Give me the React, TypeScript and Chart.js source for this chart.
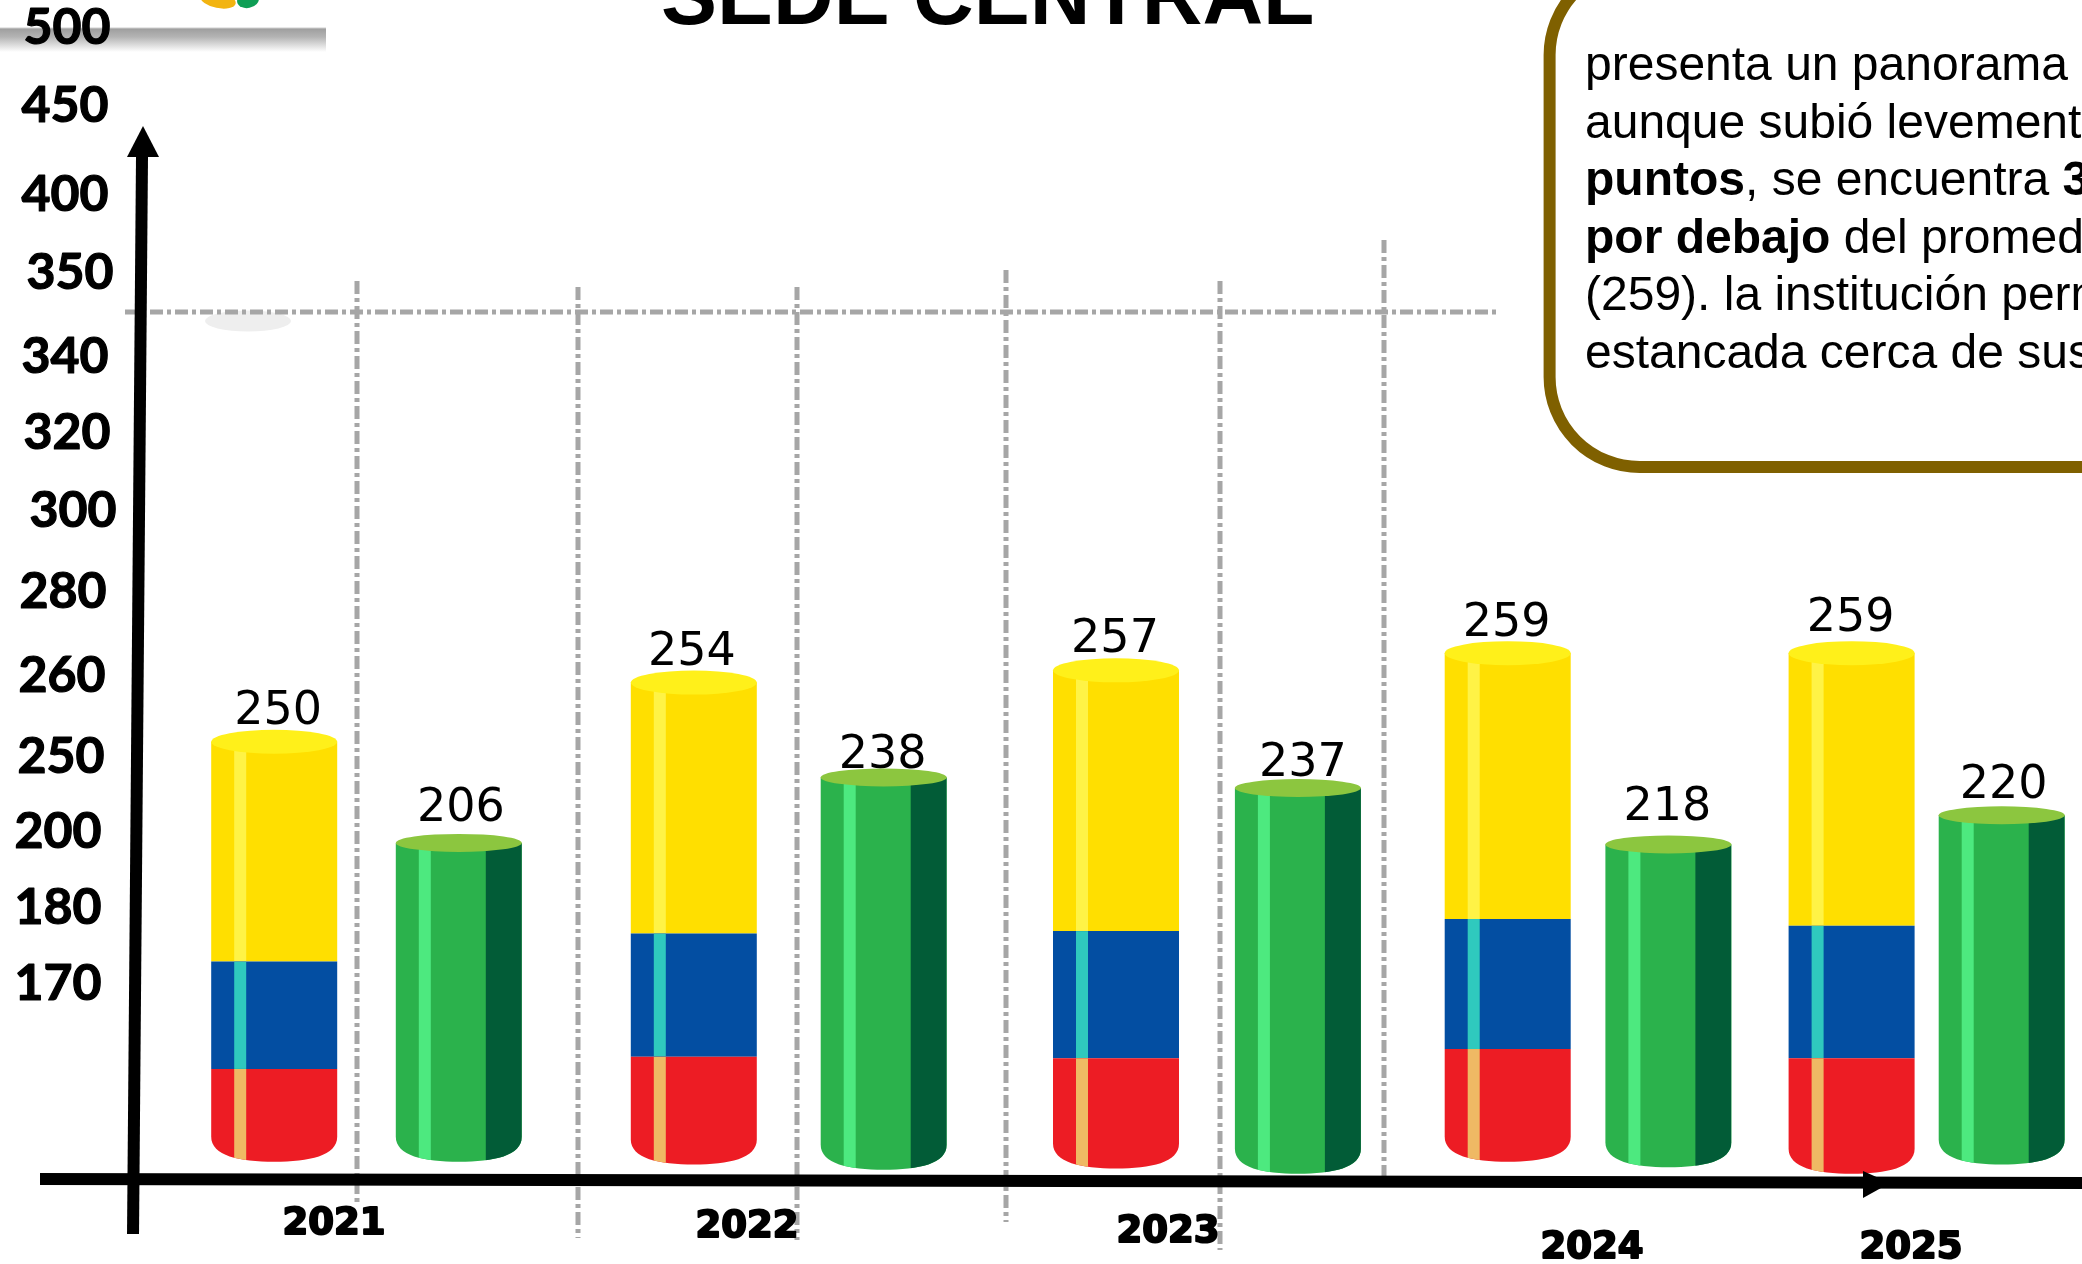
import React, { useEffect, useRef } from "react";
import { Chart, BarController, BarElement, LinearScale } from "chart.js";

// ---------- data ----------
const years = ["2021", "2022", "2023", "2024", "2025"];
const nationalLabels = [250, 254, 257, 259, 259];
const schoolLabels = [206, 238, 237, 218, 220];
const axisLabels = [170, 180, 200, 250, 260, 280, 300, 320, 340, 350, 400, 450, 500];

// readings against the picture's own (uneven) axis
const nationalTop = [251.7, 259.0, 261.0, 265.1, 265.1];
const nationalYellowBase = [172.8, 176.5, 176.8, 178.4, 177.5];
const nationalBlueBase = [94.9, 105.4, 104.2, 112.2, 104.2];
const nationalBottom = [14.1, 11.7, 8.3, 14.1, 3.7];
const schoolTop = [196.9, 235.5, 228.5, 196.5, 210.5];
const schoolBottom = [14.1, 7.1, 3.7, 9.4, 11.7];

// ---------- layout ----------
const W = 2082;
const H = 1264;
const axisValues = [0, 170, 180, 200, 250, 260, 280, 300, 320, 340, 350, 400, 450, 500];
const axisPixels = [1178, 982.6, 906.9, 831.2, 755.5, 674.5, 590.9, 509.9, 431.5, 355.8, 272.2, 193.9, 104.9, 26.6];
const axisLabelX = [58, 58, 58, 61, 62, 63, 73, 67, 65, 70, 65, 65, 67];
const nationalX = [274.2, 693.8, 1116, 1507.7, 1851.6];
const schoolX = [458.8, 883.7, 1297.9, 1668.4, 2001.7];
const nationalLabelOffset = [[4, 30], [-2, 30], [-1, 30], [-1, 29], [-1, 34]];
const schoolLabelOffset = [[2, 34], [-1, 21], [5, 24], [-1, 36], [2, 29]];
const yearX = [334, 747, 1168, 1592, 1911];
const yearY = [1224, 1227, 1232, 1248, 1248];
const verticals = [
  [357, 281, 1205],
  [578, 287, 1238],
  [797, 287, 1240],
  [1006, 270, 1222],
  [1220, 281, 1250],
  [1384, 240, 1190],
];

const BAR_W = 126;
const DASH = [13, 4, 4, 4];

const looks: Record<string, any> = {
  "#FFDF00": { stripe: "#FFF346", top: "#FFF01A", ry: 12 },
  "#034EA2": { stripe: "#2FC9BE" },
  "#ED1C24": { stripe: "#EFB964", cap: true },
  "#2BB24C": { stripe: "#4DE97F", top: "#8CC63F", ry: 9, dark: "#025C37", cap: true },
};

class CylinderBar extends BarElement {
  static id = "cylinderBar";
  static defaults = { ...BarElement.defaults };
  draw(ctx: CanvasRenderingContext2D) {
    const { x, y, base, width } = (this as any).getProps(["x", "y", "base", "width"]);
    const fill = (this as any).options.backgroundColor;
    const look = looks[fill] || {};
    const l = x - width / 2;
    const r = x + width / 2;
    ctx.save();
    ctx.beginPath();
    ctx.moveTo(l, y);
    ctx.lineTo(r, y);
    if (look.cap) {
      ctx.lineTo(r, base - 25);
      ctx.bezierCurveTo(r, base - 6, r - 28, base, x, base);
      ctx.bezierCurveTo(l + 28, base, l, base - 6, l, base - 25);
    } else {
      ctx.lineTo(r, base);
      ctx.lineTo(l, base);
    }
    ctx.closePath();
    ctx.fillStyle = fill;
    ctx.fill();
    ctx.clip();
    ctx.fillStyle = look.stripe;
    ctx.fillRect(l + 23, y, 12, base - y);
    if (look.dark) {
      ctx.fillStyle = look.dark;
      ctx.fillRect(r - 36, y, 36, base - y);
    }
    ctx.restore();
    if (look.top) {
      ctx.fillStyle = look.top;
      ctx.beginPath();
      ctx.ellipse(x, y, width / 2, look.ry, 0, 0, Math.PI * 2);
      ctx.fill();
    }
  }
}

class CylinderController extends BarController {
  static id = "cylinder";
  static defaults = { ...BarController.defaults, dataElementType: "cylinderBar" };
  static overrides = BarController.overrides;
}

class SlideScale extends LinearScale {
  static id = "slide";
  static defaults = LinearScale.defaults;
  getPixelForValue(v: number) {
    let i = 0;
    while (i < axisValues.length - 2 && v > axisValues[i + 1]) i++;
    const t = (v - axisValues[i]) / (axisValues[i + 1] - axisValues[i]);
    return axisPixels[i] + t * (axisPixels[i + 1] - axisPixels[i]);
  }
  getValueForPixel(p: number) {
    let i = 0;
    while (i < axisPixels.length - 2 && p < axisPixels[i + 1]) i++;
    const t = (p - axisPixels[i]) / (axisPixels[i + 1] - axisPixels[i]);
    return axisValues[i] + t * (axisValues[i + 1] - axisValues[i]);
  }
}

Chart.register(CylinderBar, CylinderController, SlideScale, LinearScale);

const textRuns: [string, boolean][][] = [
  [["presenta un panorama", false]],
  [["aunque subió levemente", false]],
  [["puntos", true], [", se encuentra ", false], ["3", true]],
  [["por debajo", true], [" del promedio", false]],
  [["(259). la institución perm", false]],
  [["estancada cerca de sus", false]],
];

function arrow(ctx: CanvasRenderingContext2D, pts: number[][]) {
  ctx.beginPath();
  pts.forEach((p, i) => (i ? ctx.lineTo(p[0], p[1]) : ctx.moveTo(p[0], p[1])));
  ctx.closePath();
  ctx.fill();
}

const backdrop = {
  id: "backdrop",
  beforeDatasetsDraw(chart: any) {
    const ctx: CanvasRenderingContext2D = chart.ctx;
    const x = chart.scales.x;
    const y = chart.scales.y;
    ctx.save();
    // remains of the slide header
    const g = ctx.createLinearGradient(0, 27, 0, 52);
    g.addColorStop(0, "#FFFFFF");
    g.addColorStop(0.08, "#9F9F9F");
    g.addColorStop(0.4, "#B4B4B4");
    g.addColorStop(1, "#FFFFFF");
    ctx.fillStyle = g;
    ctx.fillRect(0, 27, 326, 25);
    ctx.fillStyle = "#F2B411";
    ctx.beginPath();
    ctx.ellipse(218, 0, 18, 8, 0.2, 0, Math.PI * 2);
    ctx.fill();
    ctx.fillStyle = "#0E9E55";
    ctx.beginPath();
    ctx.ellipse(248, 0, 11, 8, -0.2, 0, Math.PI * 2);
    ctx.fill();

    ctx.fillStyle = "#EEEEEE";
    ctx.beginPath();
    ctx.ellipse(248, 321, 43, 10.5, 0, 0, Math.PI * 2);
    ctx.fill();

    // dash-dot guides
    ctx.strokeStyle = "#A6A6A6";
    ctx.lineWidth = 5;
    ctx.setLineDash(DASH);
    ctx.beginPath();
    ctx.moveTo(125, 312);
    ctx.lineTo(1496, 312);
    verticals.forEach(([vx, a, b]) => {
      ctx.moveTo(vx, a);
      ctx.lineTo(vx, b);
    });
    ctx.stroke();
    ctx.setLineDash([]);

    // value labels
    ctx.fillStyle = "#000";
    ctx.textAlign = "center";
    ctx.textBaseline = "middle";
    ctx.font = '46px "DejaVu Sans"';
    nationalLabels.forEach((v, i) => {
      const [dx, dy] = nationalLabelOffset[i];
      ctx.fillText(String(v), x.getPixelForValue(nationalX[i]) + dx, y.getPixelForValue(nationalTop[i]) - dy);
    });
    schoolLabels.forEach((v, i) => {
      const [dx, dy] = schoolLabelOffset[i];
      ctx.fillText(String(v), x.getPixelForValue(schoolX[i]) + dx, y.getPixelForValue(schoolTop[i]) - dy);
    });
    ctx.restore();
  },
};

const overlay = {
  id: "overlay",
  afterDatasetsDraw(chart: any) {
    const ctx: CanvasRenderingContext2D = chart.ctx;
    const x = chart.scales.x;
    const y = chart.scales.y;
    ctx.save();
    ctx.fillStyle = "#000";

    // axes (the slide is slightly tilted)
    arrow(ctx, [[40, 1173], [40, 1185], [2082, 1189], [2082, 1177]]);
    arrow(ctx, [[1863, 1171], [1890, 1183], [1863, 1198]]);
    arrow(ctx, [[136, 157], [148, 157], [139, 1234], [127, 1234]]);
    arrow(ctx, [[143, 126], [159, 157], [127, 157]]);

    // y-axis tick labels
    ctx.textAlign = "center";
    ctx.textBaseline = "middle";
    ctx.strokeStyle = "#000";
    ctx.lineJoin = "round";
    ctx.font = '700 50px Lato';
    ctx.lineWidth = 1.2;
    axisLabels.forEach((v, i) => {
      ctx.fillText(String(v), axisLabelX[i], y.getPixelForValue(v) + 1);
      ctx.strokeText(String(v), axisLabelX[i], y.getPixelForValue(v) + 1);
    });

    // year labels
    ctx.font = '700 37px "DejaVu Sans"';
    ctx.lineWidth = 2;
    years.forEach((t, i) => {
      ctx.fillText(t, x.getPixelForValue(yearX[i]), yearY[i]);
      ctx.strokeText(t, x.getPixelForValue(yearX[i]), yearY[i]);
    });

    // title, cut by the top of the picture
    ctx.textAlign = "left";
    ctx.textBaseline = "alphabetic";
    ctx.font = '700 84px "Liberation Sans"';
    ctx.fillText("SEDE CENTRAL", 661, 24);

    // callout
    ctx.strokeStyle = "#7F6000";
    ctx.lineWidth = 12;
    ctx.beginPath();
    ctx.roundRect(1549.6, -35, 800, 502, 90);
    ctx.stroke();

    ctx.fillStyle = "#000";
    textRuns.forEach((runs, i) => {
      let cx = 1585;
      const by = 80 + i * 57.6;
      runs.forEach(([t, bold]) => {
        ctx.font = `${bold ? "700 " : ""}48px "Liberation Sans"`;
        ctx.fillText(t, cx, by);
        cx += ctx.measureText(t).width;
      });
    });
    ctx.restore();
  },
};

export default function App() {
  const ref = useRef<HTMLCanvasElement>(null);
  useEffect(() => {
    if (!ref.current) return;
    const toBars = (xs: number[], lo: number[], hi: number[]) =>
      xs.map((px, i) => ({ x: px, y: [lo[i], hi[i]] }));
    const chart = new Chart(ref.current, {
      type: "cylinder" as any,
      data: {
        datasets: [
          { label: "Nacional (rojo)", data: toBars(nationalX, nationalBottom, nationalBlueBase), backgroundColor: "#ED1C24" },
          { label: "Nacional (azul)", data: toBars(nationalX, nationalBlueBase, nationalYellowBase), backgroundColor: "#034EA2" },
          { label: "Nacional (amarillo)", data: toBars(nationalX, nationalYellowBase, nationalTop), backgroundColor: "#FFDF00" },
          { label: "Sede Central", data: toBars(schoolX, schoolBottom, schoolTop), backgroundColor: "#2BB24C" },
        ] as any,
      },
      options: {
        animation: false,
        responsive: false,
        devicePixelRatio: 1,
        layout: { padding: 0 },
        grouped: false,
        barThickness: BAR_W,
        clip: false,
        scales: {
          x: { type: "linear", min: 0, max: W, display: false, offset: false },
          y: { type: "slide", min: 0, max: 500, display: false },
        },
        plugins: { legend: { display: false }, tooltip: { enabled: false } },
      } as any,
      plugins: [backdrop, overlay],
    });
    return () => chart.destroy();
  }, []);
  return (
    <div style={{ position: "fixed", left: 0, top: 0, width: W, height: H, background: "#fff", overflow: "hidden" }}>
      <canvas ref={ref} width={W} height={H} style={{ display: "block" }} />
    </div>
  );
}
